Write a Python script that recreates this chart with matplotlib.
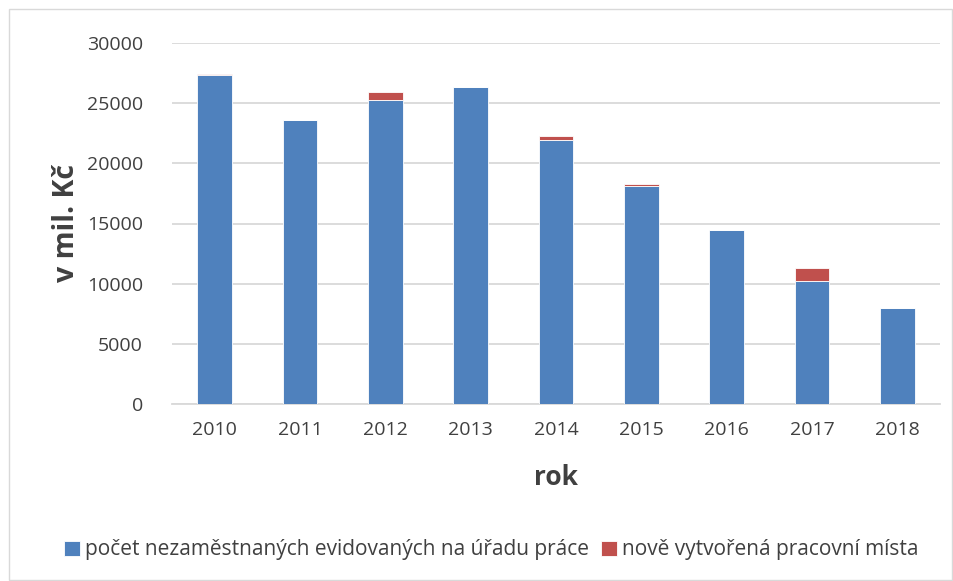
import matplotlib
import matplotlib.pyplot as plt
from matplotlib.patches import Rectangle

matplotlib.use("agg")

years = ["2010", "2011", "2012", "2013", "2014", "2015", "2016", "2017", "2018"]
unemployed = [27300, 23600, 25300, 26350, 21950, 18120, 14450, 10200, 8000]
new_jobs = [130, 0, 650, 0, 300, 150, 0, 1100, 0]

blue = "#4f81bd"
red = "#c0504d"
grid_c = "#d9d9d9"
text_c = "#404040"

plt.rcParams["font.family"] = ["Open Sans", "DejaVu Sans"]

fig = plt.figure(figsize=(9.54, 5.81), dpi=100)
ax = fig.add_axes([172 / 954, 1 - 404 / 581, (940 - 172) / 954, (404 - 43) / 581])

x = range(len(years))
ax.bar(x, unemployed, width=0.41, color=blue, edgecolor="white", linewidth=0.6,
       label="počet nezaměstnaných evidovaných na úřadu práce", zorder=3)
ax.bar(x, new_jobs, width=0.41, bottom=unemployed, color=red, edgecolor="white",
       linewidth=0.6, label="nově vytvořená pracovní místa", zorder=3)

ax.set_ylim(0, 30000)
ax.set_xlim(-0.5, len(years) - 0.5)
ax.set_yticks(range(0, 30001, 5000))
ax.set_xticks(list(x))
ax.set_xticklabels(years)
ax.yaxis.grid(True, color=grid_c, linewidth=1.3, zorder=0)
ax.tick_params(length=0, labelsize=14, colors=text_c, pad=12)
ax.tick_params(axis="y", pad=21)
for s in ["top", "right", "left"]:
    ax.spines[s].set_visible(False)
ax.spines["bottom"].set_color(grid_c)
ax.spines["bottom"].set_linewidth(1.3)

ax.set_ylabel("v mil. Kč", fontsize=20.5, fontweight="bold", color=text_c, labelpad=4)
ax.set_xlabel("rok", fontsize=19, fontweight="bold", color=text_c, labelpad=18)

fig.legend(loc="center", bbox_to_anchor=(0.515, 1 - 550 / 581), ncol=2, frameon=False,
           fontsize=15, handlelength=0.75, handleheight=0.75, handletextpad=0.25,
           columnspacing=0.6, labelcolor=text_c)

fig.patches.append(Rectangle((9 / 954, 0.002), 943 / 954, 1 - 9 / 581 - 0.002,
                             transform=fig.transFigure, fill=False,
                             edgecolor=grid_c, linewidth=1))

fig.savefig("out.png", dpi=100)
